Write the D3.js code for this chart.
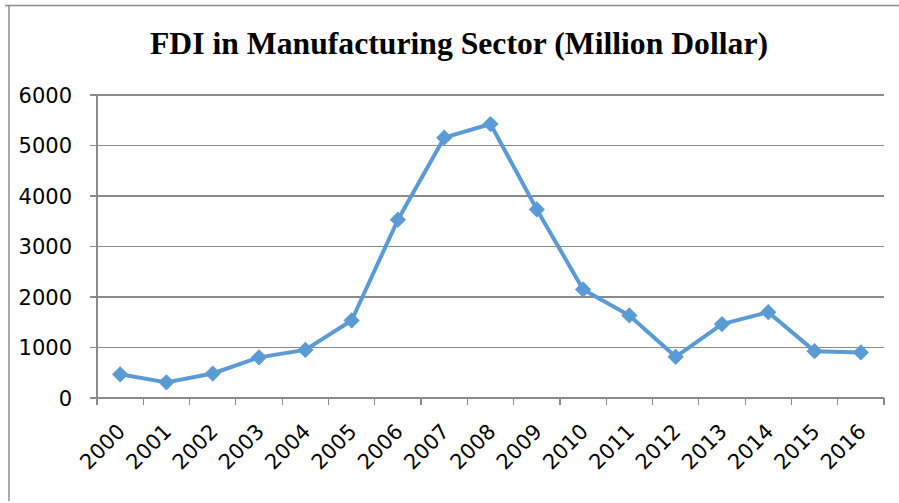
<!DOCTYPE html>
<html>
<head>
<meta charset="utf-8">
<script src="https://cdn.jsdelivr.net/npm/d3@7"></script>
<style>
  html, body { margin: 0; padding: 0; background: #fff; }
  svg { display: block; }
</style>
</head>
<body>
<svg id="chart" width="899" height="503"></svg>
<script>
const years = ["2000","2001","2002","2003","2004","2005","2006","2007","2008","2009","2010","2011","2012","2013","2014","2015","2016"];
const fdiValues = [460, 300, 475, 795, 943, 1525, 3520, 5145, 5415, 3725, 2140, 1625, 805, 1453, 1690, 918, 893];
const yTicks = [0, 1000, 2000, 3000, 4000, 5000, 6000];
const titleText = "FDI in Manufacturing Sector (Million Dollar)";

const svg = d3.select("#chart");
const W = 899, H = 503;
const plot = { left: 97, right: 884, top: 94.5, bottom: 397.5 };

svg.append("rect").attr("width", W).attr("height", H).attr("fill", "#fff");

// chart frame (partially visible)
svg.append("line").attr("x1", 5).attr("x2", W).attr("y1", 5.5).attr("y2", 5.5)
  .attr("stroke", "#8c8c8c").attr("stroke-width", 1.5);
svg.append("line").attr("x1", 9).attr("x2", 9).attr("y1", 5).attr("y2", 501)
  .attr("stroke", "#8c8c8c").attr("stroke-width", 1.5);

// title
svg.append("text")
  .attr("x", 150).attr("y", 53.5)
  .attr("font-family", "Liberation Serif, 'Times New Roman', serif")
  .attr("font-weight", "bold").attr("font-size", 31)
  .attr("textLength", 618).attr("lengthAdjust", "spacingAndGlyphs")
  .attr("fill", "#000")
  .text(titleText);

const x = d3.scaleBand().domain(years).range([plot.left, plot.right]).padding(0);
const y = d3.scaleLinear().domain([0, 6000]).range([plot.bottom, plot.top]);

const gridColor = "#8a8a8a";

// gridlines + y ticks
const yAxis = d3.axisLeft(y).tickValues(yTicks).tickSize(plot.right - plot.left + 7).tickPadding(18).tickFormat(d3.format("d"));
const gy = svg.append("g").attr("transform", `translate(${plot.right},0)`).call(yAxis);
gy.select(".domain").remove();
gy.selectAll(".tick line").attr("stroke", gridColor).attr("stroke-width", 1.2).attr("shape-rendering", "crispEdges");
gy.selectAll(".tick text")
  .attr("font-family", "DejaVu Sans, sans-serif").attr("font-size", 21).attr("fill", "#000")
  .attr("dy", "0.36em");

// vertical axis line
svg.append("line").attr("x1", plot.left).attr("x2", plot.left).attr("y1", plot.top).attr("y2", plot.bottom + 7.5)
  .attr("stroke", gridColor).attr("stroke-width", 1.2).attr("shape-rendering", "crispEdges");

// x axis category boundary ticks
const xAxis = d3.axisBottom(x).tickSize(0).tickFormat("");
const gx = svg.append("g").attr("transform", `translate(0,${plot.bottom})`).call(xAxis);
gx.select(".domain").remove();
gx.selectAll(".tick").remove();
const boundaries = years.map(d => x(d)).concat([x(years[years.length - 1]) + x.bandwidth()]);
gx.selectAll("line.bt").data(boundaries).join("line").attr("class", "bt")
  .attr("x1", d => d).attr("x2", d => d).attr("y1", 0).attr("y2", 7.5)
  .attr("stroke", gridColor).attr("stroke-width", 1.2).attr("shape-rendering", "crispEdges");

// x labels rotated
svg.append("g").selectAll("text").data(years).join("text")
  .attr("transform", d => `translate(${x(d) + x.bandwidth() / 2 + 1},${plot.bottom + 30}) rotate(-45)`)
  .attr("text-anchor", "end").attr("dy", "0.36em")
  .attr("font-family", "DejaVu Sans, sans-serif").attr("font-size", 21).attr("fill", "#000")
  .text(d => d);

// line
const lineColor = "#5b9bd5";
const line = d3.line().x((d, i) => x(years[i]) + x.bandwidth() / 2).y(d => y(d));
svg.append("path").datum(fdiValues).attr("d", line)
  .attr("fill", "none").attr("stroke", lineColor).attr("stroke-width", 4).attr("stroke-linejoin", "round");

// diamond markers
svg.append("g").selectAll("path").data(fdiValues).join("path")
  .attr("d", d3.symbol(d3.symbolSquare, 110))
  .attr("transform", (d, i) => `translate(${x(years[i]) + x.bandwidth() / 2},${y(d)}) rotate(45)`)
  .attr("fill", lineColor).attr("stroke", lineColor).attr("stroke-width", 1);
</script>
</body>
</html>
